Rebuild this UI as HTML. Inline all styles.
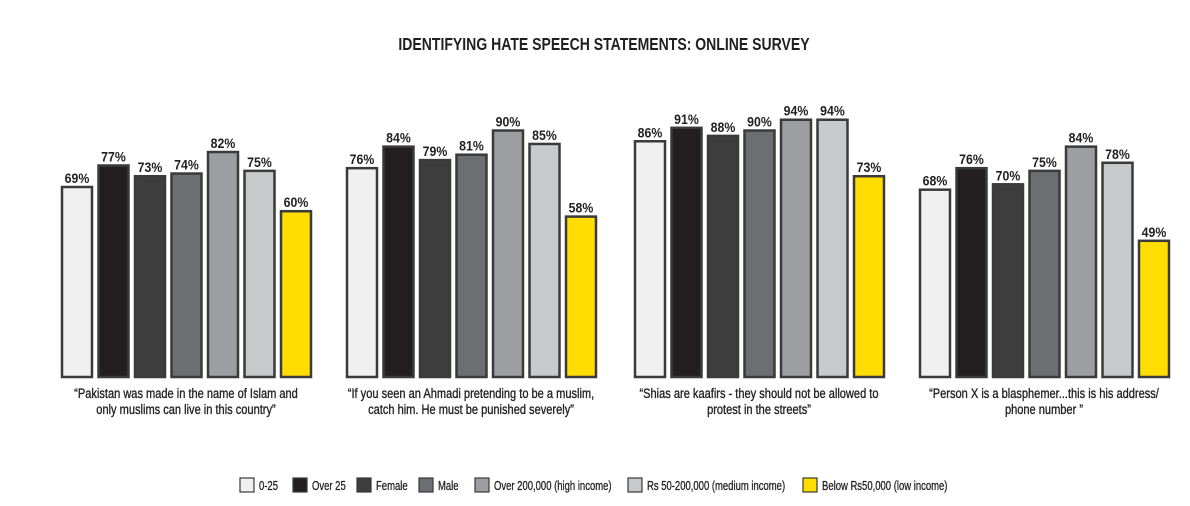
<!DOCTYPE html>
<html><head><style>
body{margin:0;background:#fff;}
svg text{font-family:"Liberation Sans",sans-serif;font-weight:bold;fill:#231f20;}
</style></head><body>
<svg width="1190" height="501" xmlns="http://www.w3.org/2000/svg">
<text x="604" y="50" text-anchor="middle" font-size="18" transform="translate(604,0) scale(0.78,1) translate(-604,0)">IDENTIFYING HATE SPEECH STATEMENTS: ONLINE SURVEY</text>
<g id="bars" stroke="#3a3a3a" stroke-width="2.5"></g>
<g id="labels"></g>
<g id="legend"></g>
</svg>
<script>
const cols=["#f0f0f1","#231f20","#3d3d3e","#6d6e71","#9c9ea1","#c8c9cb","#ffdd00"];
const data=[[69,77,73,74,82,75,60],[76,84,79,81,90,85,58],[86,91,88,90,94,94,73],[68,76,70,75,84,78,49]];
const gx=[62,347,635,920];
const caps=[["“Pakistan was made in the name of Islam and","only muslims can live in this country”"],["“If you seen an Ahmadi pretending to be a muslim,","catch him. He must be punished severely”"],["“Shias are kaafirs - they should not be allowed to","protest in the streets”"],["“Person X is a blasphemer...this is his address/","phone number ”"]];
const NS="http://www.w3.org/2000/svg";
const B=document.getElementById("bars"),L=document.getElementById("labels"),G=document.getElementById("legend");
function el(t,a,p,txt){const e=document.createElementNS(NS,t);for(const k in a)e.setAttribute(k,a[k]);if(txt)e.textContent=txt;p.appendChild(e);return e;}
data.forEach((g,gi)=>{
 g.forEach((v,i)=>{
  const x=gx[gi]+i*36.5, top=187-(v-69)*2.69;
  el("rect",{x:x,y:top,width:30,height:377-top,fill:cols[i]},B);
  const cx=x+15;
  el("text",{x:cx,y:top-4,"text-anchor":"middle","font-size":14,transform:`translate(${cx},0) scale(0.88,1) translate(${-cx},0)`},L,v+"%");
 });
 const cx=gx[gi]+124;
 caps[gi].forEach((c,j)=>el("text",{x:cx,y:398+j*16,"text-anchor":"middle","font-size":14,transform:`translate(${cx},0) scale(0.79,1) translate(${-cx},0)`,style:"font-weight:normal;stroke:#231f20;stroke-width:0.35"},L,c));
});
const lg=[[240,"0-25"],[293,"Over 25"],[357,"Female"],[419,"Male"],[475,"Over 200,000 (high income)"],[628,"Rs 50-200,000 (medium income)"],[803,"Below Rs50,000 (low income)"]];
lg.forEach((l,i)=>{
 el("rect",{x:l[0],y:478,width:14,height:14,fill:cols[i],stroke:"#3a3a3a","stroke-width":1.2},G);
 const tx=l[0]+19;
 el("text",{x:tx,y:490,"font-size":13,transform:`translate(${tx},0) scale(0.73,1) translate(${-tx},0)`,style:"font-weight:normal;stroke:#231f20;stroke-width:0.3"},G,l[1]);
});
</script>
</body></html>
